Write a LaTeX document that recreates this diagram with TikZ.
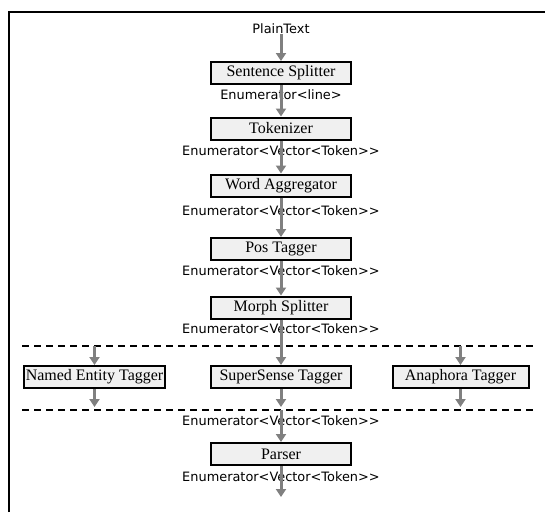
\documentclass[tikz,border=0pt]{standalone}
\usepackage{fontspec}
\setmainfont{Liberation Serif}
\newfontfamily\lblfont{DejaVu Sans}
\usetikzlibrary{arrows.meta}
\definecolor{boxgray}{RGB}{240,240,240}
\definecolor{arrowgray}{RGB}{128,128,128}
\begin{document}
\begin{tikzpicture}[x=1pt,y=-1pt,
  box/.style={draw=black,line width=2pt,fill=boxgray,minimum height=22pt,minimum width=140pt,inner sep=0pt,font=\fontsize{16}{18}\selectfont},
  lbl/.style={inner sep=0pt,font=\lblfont\fontsize{12.9}{14}\selectfont},
  flow/.style={draw=arrowgray,line width=3pt,-{Triangle[width=10pt,length=8pt]}},
  sep/.style={line width=2pt,dash pattern=on 7pt off 5pt}]
\useasboundingbox (0,0) rectangle (545,512);
% frame
\draw[line width=2pt] (8.5,512) -- (8.5,11.5) -- (545,11.5);
% nodes
\node[lbl] (plain) at (281,29) {PlainText};
\node[box] (ss) at (281,73) {Sentence Splitter};
\node[lbl] (l1) at (281,95) {Enumerator<line>};
\node[box] (tok) at (281,128.5) {Tokenizer};
\node[lbl] (l2) at (281,151) {Enumerator<Vector<Token>>};
\node[box] (wa) at (281,185.5) {Word Aggregator};
\node[lbl] (l3) at (281,211) {Enumerator<Vector<Token>>};
\node[box] (pos) at (281,249) {Pos Tagger};
\node[lbl] (l4) at (281,271) {Enumerator<Vector<Token>>};
\node[box] (morph) at (281,307.5) {Morph Splitter};
\node[lbl] (l5) at (281,329) {Enumerator<Vector<Token>>};
\node[box,minimum width=141pt] (ne) at (94.5,377) {Named Entity Tagger};
\node[box] (sst) at (281,377) {SuperSense Tagger};
\node[box,minimum width=136pt] (ana) at (460.5,377) {Anaphora Tagger};
\node[lbl] (l6) at (281,421) {Enumerator<Vector<Token>>};
\node[box] (parser) at (281,454) {Parser};
\node[lbl] (l7) at (281,477) {Enumerator<Vector<Token>>};
% separators
\coordinate (d1L) at (22,346);
\coordinate (d1R) at (536,346);
\coordinate (d2L) at (22,410);
\coordinate (d2R) at (536,410);
\coordinate (e2L) at (22,407);
\coordinate (out) at (281,497);
\draw[sep] (d1L) -- (d1R);
\draw[sep] (d2L) -- (d2R);
% arrows
\draw[flow] (plain) -- (ss);
\draw[flow] (ss) -- (tok);
\draw[flow] (tok) -- (wa);
\draw[flow] (wa) -- (pos);
\draw[flow] (pos) -- (morph);
\draw[flow] (morph) -- (sst);
\draw[flow] (ne |- d1L) -- (ne);
\draw[flow] (ana |- d1L) -- (ana);
\draw[flow] (ne) -- (ne |- e2L);
\draw[flow] (sst) -- (sst |- e2L);
\draw[flow] (ana) -- (ana |- e2L);
\draw[flow] (sst |- d2L) -- (parser);
\draw[flow] (parser) -- (out);
\end{tikzpicture}
\end{document}
